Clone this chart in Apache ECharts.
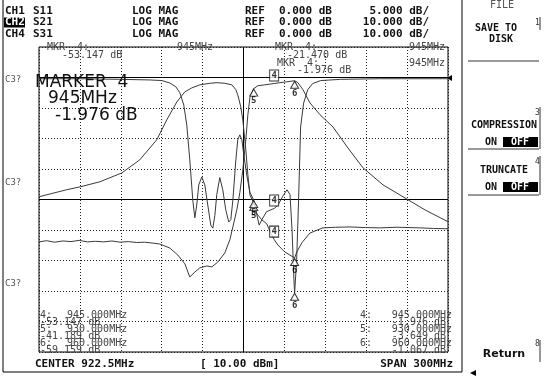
<!DOCTYPE html>
<html><head><meta charset="utf-8">
<script src="https://cdn.jsdelivr.net/npm/echarts/dist/echarts.min.js"></script>
<style>html,body{margin:0;padding:0;background:#fff}#c{width:546px;height:376px}</style>
</head><body><div id="c"></div>
<script>
// ---- data (frequency in MHz, level in dB) ----
const centerMHz = 922.5, spanMHz = 300;
const s21Freq = [772.5,778,784,790,796,802,808,814,820,826,832,838,844,850,856,861.1,868.4,874.3,879.5,883.1,886.8,890.5,895.6,899.3,903.7,908.8,912.5,914.7,917.6,919.8,922.0,924.2,925.7,927.2,930,933.0,938.2,945,949.2,954.3,960,962.4,966.1,971.2,978.6,988.1,999.1,1010.1,1024.8,1039.5,1055.6,1072.5];
const s21dB   = [-53.9,-53.5,-54.0,-53.6,-53.8,-53.4,-53.9,-53.7,-53.9,-53.6,-54.0,-53.8,-54.1,-54.0,-54.3,-54.6,-55.9,-58.2,-61.1,-65.4,-63.8,-62.4,-61.8,-62.1,-60.5,-57.5,-53.2,-49.0,-43.4,-37.8,-30.3,-20.4,-12.2,-6.6,-3.649,-2.7,-2.4,-1.976,-1.7,-1.4,-1.067,-1.7,-4.0,-8.3,-12.2,-16.2,-23.1,-29.6,-35.2,-39.1,-43.4,-47.3];
const s31Freq = [772.5,792.8,803.1,817.1,833.2,846.4,858.9,866.2,873.6,879.5,884.6,890.5,897.8,903.0,908.8,913.9,916.9,918.3,920.5,922.0,924.2,925.7,927.2,930,932.3,936.0,939.6,942,945,947.7,952.8,960,961.6,965.3,971.2,980.7,990,1000.5,1012,1022.5,1035,1051.9,1062,1072.5];
const s31dB   = [-39.1,-36.8,-35.8,-34.2,-31.3,-27.0,-20.4,-13.9,-8.0,-4.7,-3.4,-2.4,-1.9,-1.7,-1.9,-2.4,-4.0,-5.7,-9.6,-13.9,-23.7,-31.9,-38.5,-41.189,-44.7,-46.7,-48.0,-50.5,-53.147,-54.9,-57.2,-59.159,-57.2,-54.2,-51.0,-49.3,-49.1,-49.0,-49.2,-49.3,-49.1,-49.3,-49.5,-49.6];
const s11Freq = [772.5,802.4,831.8,853.8,862.6,868.4,872.8,875.8,878.7,880.9,883.1,885.3,886.8,888.2,889.7,891.9,894.1,896.3,898.5,900.0,901.5,902.9,905.1,907.3,909.5,911.7,913.2,914.7,916.9,918.3,919.8,921.3,922.7,924.9,927.2,930,931.8,934.0,936.0,939.4,945,947.8,951.5,954.4,956.6,958.1,959.5,960,961.5,962.9,964.4,966.6,969.6,973.2,979.1,993.8,1022.8,1072.5];
const s11dB   = [-0.2,-0.2,-0.3,-0.4,-0.5,-0.9,-1.5,-2.5,-4.5,-7.8,-13.5,-20.1,-23.0,-20.9,-17.6,-16.3,-17.6,-20.9,-24.2,-24.7,-22.6,-19.2,-16.4,-18.4,-21.7,-23.7,-23.3,-20.1,-13.5,-10.2,-9.4,-10.2,-12.7,-16.0,-18.8,-20.1,-22.0,-24.2,-23.3,-22.0,-21.47,-20.9,-19.4,-18.4,-19.2,-25.0,-33.2,-35.3,-29.9,-20.1,-8.1,-4.2,-2.0,-1.0,-0.5,-0.3,-0.2,-0.2];
const markerNames = ['4','5','6'];
const markerFreq  = [945, 930, 960];
const s21Marker = [-1.976, -3.649, -1.067];
const s31Marker = [-53.147, -41.189, -59.159];
const s11Marker = [-21.470, -20.1, -35.3];

const pairs = (f, v) => f.map((x, i) => [x, v[i]]);
const mk = (v, idx) => idx.map(i => [markerFreq[i], v[i], markerNames[i]]);

const chart = echarts.init(document.getElementById('c'), null, {renderer: 'canvas'});
const TR = '#3a3a3a';
const MONO = '"DejaVu Sans Mono", monospace';
const els = [];
function T(x, y, text, o) {
  o = o || {};
  els.push({type: 'text', z: o.z || 50, style: {
    x: x, y: y, text: text,
    font: (o.bold ? 'bold ' : '') + (o.size || 10) + 'px ' + (o.family || MONO),
    fill: o.fill || '#333', align: o.align || 'left', verticalAlign: 'middle',
    textAlign: o.align || 'left', textVerticalAlign: 'middle'}});
}
function L(x1, y1, x2, y2, c, w) {
  els.push({type: 'line', z: 40, shape: {x1, y1, x2, y2}, style: {stroke: c || '#000', lineWidth: w || 1}});
}
function R(x, y, w, h, fill) {
  els.push({type: 'rect', z: 45, shape: {x, y, width: w, height: h}, style: {fill: fill}});
}
// header
const hdr = [['CH1','S11','5.000 dB/',11],['CH2','S21','10.000 dB/',22.5],['CH4','S31','10.000 dB/',34]];
hdr.forEach((h, i) => {
  if (i === 1) { R(4, h[3] - 5, 21, 10, '#000'); T(5, h[3], h[0], {bold: true, size: 11, fill: '#fff', z: 60}); }
  else T(5, h[3], h[0], {bold: true, size: 11, fill: '#111'});
  T(33, h[3], h[1], {bold: true, size: 11, fill: '#111'});
  T(132, h[3], 'LOG MAG', {bold: true, size: 11, fill: '#111'});
  T(245, h[3], 'REF', {bold: true, size: 11, fill: '#111'});
  T(279, h[3], '0.000 dB', {bold: true, size: 11, fill: '#111'});
  T(429, h[3], h[2], {bold: true, size: 11, fill: '#111', align: 'right'});
});
// marker annotations
const an = {size: 10, fill: '#444'};
T(47, 47, 'MKR  4:', an); T(62, 55, '-53.147 dB', an); T(177, 47, '945MHz', an);
T(275, 47, 'MKR  4:', an); T(287, 55, '-21.470 dB', an); T(445, 47, '945MHz', Object.assign({align: 'right'}, an));
T(277, 63, 'MKR  4:', an); T(297, 70, '-1.976 dB', an); T(445, 63, '945MHz', Object.assign({align: 'right'}, an));
// big marker readout
const big = {size: 17, family: '"DejaVu Sans", sans-serif', fill: '#111'};
T(35, 83, 'MARKER  4', big); T(48, 99, '945MHz', big); T(55, 116, '-1.976 dB', big);
// bottom readouts
const rowsY = [315, 322, 329, 336, 343, 350];
T(40, rowsY[0], '4:', an); T(67, rowsY[0], '945.000MHz', an); T(40, rowsY[1], '-53.147 dB', an);
T(40, rowsY[2], '5:', an); T(67, rowsY[2], '930.000MHz', an); T(40, rowsY[3], '-41.189 dB', an);
T(40, rowsY[4], '6:', an); T(67, rowsY[4], '960.000MHz', an); T(40, rowsY[5], '-59.159 dB', an);
const ar = Object.assign({align: 'right'}, an);
T(360, rowsY[0], '4:', an); T(452, rowsY[0], '945.000MHz', ar); T(446, rowsY[1], '-1.976 dB', ar);
T(360, rowsY[2], '5:', an); T(452, rowsY[2], '930.000MHz', ar); T(446, rowsY[3], '-3.649 dB', ar);
T(360, rowsY[4], '6:', an); T(452, rowsY[4], '960.000MHz', ar); T(446, rowsY[5], '-1.067 dB', ar);
T(35, 364, 'CENTER ' + centerMHz + 'MHz', {bold: true, size: 11, fill: '#111'});
T(200, 364, '[ 10.00 dBm]', {bold: true, size: 11, fill: '#111'});
T(453, 364, 'SPAN ' + spanMHz + 'MHz', {bold: true, size: 11, fill: '#111', align: 'right'});
// left channel ref labels
['C3?','C3?','C3?'].forEach((t, i) => T(5, [80, 183, 284][i], t, {size: 9, fill: '#555'}));
// frame
L(3, 0, 3, 372); L(3, 372, 462, 372); L(462, 0, 462, 372);
// ref pointer
els.push({type: 'polygon', z: 45, shape: {points: [[447, 78], [452, 75], [452, 81]]}, style: {fill: '#000'}});
// softkeys
const sk = {bold: true, size: 10, fill: '#111', align: 'center'};
T(502, 5, 'FILE', {size: 10, fill: '#555', align: 'center'});
T(496, 28, 'SAVE TO', sk); T(501, 39, 'DISK', sk);
T(535, 23, '1', {size: 8, fill: '#333'}); L(540, 17, 540, 30, '#333');
L(468, 61, 539, 61, '#333');
T(535, 113, '3', {size: 8, fill: '#333'}); L(540, 107, 540, 149, '#333');
T(504, 125, 'COMPRESSION', sk); T(485, 142, 'ON', {bold: true, size: 10, fill: '#111'});
R(503, 137, 35, 10, '#000'); T(520, 142, 'OFF', {bold: true, size: 10, fill: '#fff', align: 'center', z: 60});
L(468, 149, 539, 149, '#333');
T(535, 162, '4', {size: 8, fill: '#333'}); L(540, 156, 540, 195, '#333');
T(504, 170, 'TRUNCATE', sk); T(485, 187, 'ON', {bold: true, size: 10, fill: '#111'});
R(503, 182, 35, 10, '#000'); T(520, 187, 'OFF', {bold: true, size: 10, fill: '#fff', align: 'center', z: 60});
L(468, 195, 539, 195, '#333');
T(535, 344, '8', {size: 8, fill: '#333'}); L(540, 340, 540, 362, '#333');
T(504, 354, 'Return', {bold: true, size: 11, fill: '#111', align: 'center', family: '"DejaVu Sans", sans-serif'});
els.push({type: 'polygon', z: 45, shape: {points: [[470, 373], [476, 370], [476, 376]]}, style: {fill: '#000'}});

const gridSplit = {show: true, lineStyle: {color: '#222', type: [1, 2], width: 1}};
const hidden = {axisLine: {show: false}, axisTick: {show: false}, axisLabel: {show: false}, splitLine: {show: false}};
const line = (name, data, yi) => ({type: 'line', name, data, yAxisIndex: yi, xAxisIndex: 0, showSymbol: false,
  symbol: 'none', lineStyle: {color: TR, width: 1}, z: 10, animation: false});
const boxS = (data, yi) => ({type: 'scatter', data, yAxisIndex: yi, xAxisIndex: 0, symbol: 'rect', symbolSize: [9, 11],
  symbolOffset: [0, -8], itemStyle: {color: '#fff', borderColor: '#000', borderWidth: 1}, z: 20, animation: false,
  label: {show: true, position: 'inside', formatter: p => p.value[2], fontSize: 9, fontWeight: 'bold', color: '#000', fontFamily: MONO}});
const triS = (data, yi) => ({type: 'scatter', data, yAxisIndex: yi, xAxisIndex: 0, symbol: 'triangle', symbolSize: [8, 7],
  symbolOffset: [0, 4], itemStyle: {color: '#fff', borderColor: '#000', borderWidth: 1}, z: 20, animation: false,
  label: {show: true, position: 'bottom', distance: 0, formatter: p => p.value[2], fontSize: 9, fontWeight: 'bold', color: '#000', fontFamily: MONO}});

const s21 = line('S21', pairs(s21Freq, s21dB), 0);
s21.markLine = {silent: true, symbol: 'none', animation: false, label: {show: false},
  lineStyle: {color: '#000', type: 'solid', width: 1},
  data: [{yAxis: 0}, {yAxis: -40}, {xAxis: centerMHz}]};

chart.setOption({
  animation: false,
  backgroundColor: '#fff',
  grid: {left: 39, top: 47, width: 409, height: 305, show: true, borderColor: '#000', borderWidth: 1, backgroundColor: 'transparent'},
  xAxis: [
    Object.assign({type: 'value', min: centerMHz - spanMHz / 2, max: centerMHz + spanMHz / 2}, hidden),
    Object.assign({}, hidden, {type: 'value', min: 0, max: 10, interval: 1, splitLine: gridSplit})
  ],
  yAxis: [
    Object.assign({}, hidden, {type: 'value', min: -90, max: 10, interval: 10, splitLine: gridSplit}),
    Object.assign({type: 'value', min: -45, max: 5, interval: 5}, hidden)
  ],
  series: [
    s21,
    line('S31', pairs(s31Freq, s31dB), 0),
    line('S11', pairs(s11Freq, s11dB), 1),
    boxS(mk(s21Marker, [0]), 0), triS(mk(s21Marker, [1, 2]), 0),
    boxS(mk(s31Marker, [0]), 0), triS(mk(s31Marker, [1, 2]), 0),
    boxS(mk(s11Marker, [0]), 1), triS(mk(s11Marker, [1, 2]), 1)
  ],
  graphic: els
});
</script></body></html>
